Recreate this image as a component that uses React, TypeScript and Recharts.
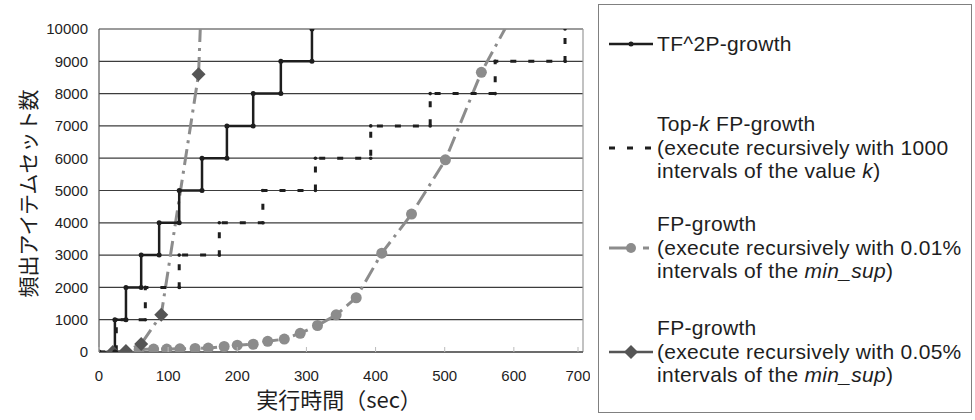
import React from "react";
import {
  LineChart,
  Line,
  XAxis,
  YAxis,
  CartesianGrid,
  ReferenceLine,
} from "recharts";

// axis ticks
const X_TICKS = [0, 100, 200, 300, 400, 500, 600, 700];
const Y_TICKS = [0, 1000, 2000, 3000, 4000, 5000, 6000, 7000, 8000, 9000, 10000];

// TF^2P-growth (corner points of the step)
const tf2pTime = [0, 23, 23, 39, 39, 61, 61, 87, 87, 116, 116, 149, 149, 185, 185, 223, 223, 263, 263, 308, 308];
const tf2pCount = [0, 0, 1000, 1000, 2000, 2000, 3000, 3000, 4000, 4000, 5000, 5000, 6000, 6000, 7000, 7000, 8000, 8000, 9000, 9000, 10000];

// Top-k FP-growth (1000 intervals of k)
const topkTime = [0, 25, 25, 67, 67, 116, 116, 174, 174, 237, 237, 313, 313, 393, 393, 479, 479, 573, 573, 674, 674];
const topkCount = [0, 0, 1000, 1000, 2000, 2000, 3000, 3000, 4000, 4000, 5000, 5000, 6000, 6000, 7000, 7000, 8000, 8000, 9000, 9000, 10000];

// FP-growth, 0.01% min_sup steps (last point runs past the top)
const fp001Time = [58, 79, 98, 117, 139, 158, 181, 200, 223, 244, 268, 291, 316, 343, 372, 409, 452, 501, 553, 615];
const fp001Count = [80, 90, 90, 100, 110, 120, 170, 210, 240, 330, 400, 580, 820, 1150, 1680, 3060, 4270, 5950, 8660, 11100];

// FP-growth, 0.05% min_sup steps
const fp005Time = [20, 39, 61, 90, 144, 150];
const fp005Count = [0, 30, 250, 1150, 8600, 12000];

const zip = (xs: number[], ys: number[]) => xs.map((x, i) => ({ x, y: ys[i] }));

const tf2pData = zip(tf2pTime, tf2pCount);
const topkData = zip(topkTime, topkCount);
const fp001Data = zip(fp001Time, fp001Count);
const fp005Data = zip(fp005Time, fp005Count);

const GRAY = "#8c8c8c";
const DARK = "#555555";
const INK = "#1e1e1e";
const TEXT_FONT = "'Liberation Sans', Arial, sans-serif";
const JP_FONT = "'Noto Sans CJK JP', sans-serif";

function Diamond(props: any) {
  const { cx, cy } = props;
  if (cx == null || cy == null) return null;
  const s = 7;
  return (
    <polygon
      points={`${cx},${cy - s} ${cx + s},${cy} ${cx},${cy + s} ${cx - s},${cy}`}
      fill={DARK}
    />
  );
}

function XTick(props: any) {
  const { x, y, payload } = props;
  return (
    <g>
      <line x1={x} x2={x} y1={y - 18} y2={y - 23} stroke="#bbb" />
      <text x={x} y={y} dy="0.71em" textAnchor="middle" fill={INK} fontSize={15} fontFamily={TEXT_FONT}>
        {payload.value}
      </text>
    </g>
  );
}

const LEGEND_LINE = 23.5;

function LegendSymbol({ kind }: { kind: string }) {
  return (
    <svg width={50} height={20} style={{ position: "absolute", left: 8, top: -10 }}>
      {kind === "tf2p" && (
        <>
          <line x1={2} x2={46} y1={10} y2={10} stroke={INK} strokeWidth={2.5} />
          <circle cx={24} cy={10} r={2.5} fill={INK} />
        </>
      )}
      {kind === "topk" && (
        <line x1={2} x2={48} y1={10} y2={10} stroke={INK} strokeWidth={3} strokeDasharray="6 12" />
      )}
      {kind === "fp001" && (
        <>
          <line x1={2} x2={28} y1={10} y2={10} stroke={GRAY} strokeWidth={3} />
          <line x1={36} x2={42} y1={10} y2={10} stroke={GRAY} strokeWidth={3} />
          <circle cx={24} cy={10} r={5} fill={GRAY} />
        </>
      )}
      {kind === "fp005" && (
        <>
          <line x1={2} x2={46} y1={10} y2={10} stroke={DARK} strokeWidth={2.5} />
          <polygon points="24,3 31,10 24,17 17,10" fill={DARK} />
        </>
      )}
    </svg>
  );
}

type LegendEntry = { kind: string; center: number; lines: React.ReactNode[]; symbolLine: number };

const legendEntries: LegendEntry[] = [
  { kind: "tf2p", center: 43, lines: ["TF^2P-growth"], symbolLine: 0 },
  {
    kind: "topk",
    center: 123,
    lines: [
      <>Top-<i>k</i> FP-growth</>,
      "(execute recursively with 1000",
      <>intervals of the value <i>k</i>)</>,
    ],
    symbolLine: 1,
  },
  {
    kind: "fp001",
    center: 223,
    lines: ["FP-growth", "(execute recursively with 0.01%", <>intervals of the <i>min_sup</i>)</>],
    symbolLine: 1,
  },
  {
    kind: "fp005",
    center: 327,
    lines: ["FP-growth", "(execute recursively with 0.05%", <>intervals of the <i>min_sup</i>)</>],
    symbolLine: 1,
  },
];

function LegendBox() {
  return (
    <div
      style={{
        position: "absolute",
        left: 598,
        top: 4,
        width: 374,
        height: 409,
        border: "1px solid #808080",
        boxSizing: "border-box",
        fontFamily: TEXT_FONT,
        fontSize: 21,
        letterSpacing: 0.3,
        color: INK,
      }}
    >
      {legendEntries.map((e) => (
        <React.Fragment key={e.kind}>
          <div style={{ position: "absolute", left: 0, top: e.center - 4 + e.symbolLine * LEGEND_LINE }}>
            <LegendSymbol kind={e.kind} />
          </div>
          {e.lines.map((ln, i) => (
            <div
              key={i}
              style={{
                position: "absolute",
                left: 58,
                top: e.center - 4 + i * LEGEND_LINE - LEGEND_LINE / 2,
                lineHeight: `${LEGEND_LINE}px`,
                whiteSpace: "nowrap",
              }}
            >
              {ln}
            </div>
          ))}
        </React.Fragment>
      ))}
    </div>
  );
}

export default function App() {
  return (
    <div style={{ position: "absolute", left: 0, top: 0, width: 975, height: 420, background: "#fff" }}>
      <LineChart width={590} height={420} margin={{ top: 29, right: 7, bottom: 20, left: 20 }}>
        <CartesianGrid horizontal vertical={false} stroke="#3c3c3c" strokeWidth={1.2} />
        <XAxis
          type="number"
          dataKey="x"
          domain={[0, 700]}
          ticks={X_TICKS}
          allowDataOverflow
          height={48}
          tickSize={0}
          tickMargin={18}
          tick={<XTick />}
          axisLine={{ stroke: "#3c3c3c", strokeWidth: 1.2 }}
          label={{
            content: (p: any) => {
              const vb = p.viewBox;
              return (
                <text
                  x={vb.x + vb.width / 2 - 2}
                  y={402}
                  textAnchor="middle"
                  dominantBaseline="middle"
                  fontSize={22}
                  fontFamily={JP_FONT}
                  fill={INK}
                >
                  実行時間（sec）
                </text>
              );
            },
          }}
        />
        <YAxis
          type="number"
          dataKey="y"
          domain={[0, 10000]}
          ticks={Y_TICKS}
          allowDataOverflow
          width={79}
          tickSize={0}
          tickMargin={11}
          tick={{ fill: INK, fontSize: 15, fontFamily: TEXT_FONT }}
          axisLine={{ stroke: "#555", strokeWidth: 1.2 }}
          label={{
            content: (p: any) => {
              const vb = p.viewBox;
              const cy = vb.y + vb.height / 2 + 3;
              return (
                <text
                  x={30}
                  y={cy}
                  transform={`rotate(-90, 30, ${cy})`}
                  textAnchor="middle"
                  dominantBaseline="middle"
                  fontSize={21}
                  fontFamily={JP_FONT}
                  fill={INK}
                >
                  頻出アイテムセット数
                </text>
              );
            },
          }}
        />
        <ReferenceLine y={10000} stroke="#999" strokeWidth={1.2} />
        <ReferenceLine x={700} stroke="#999" strokeWidth={1.2} />
        <Line
          data={fp001Data}
          dataKey="y"
          type="linear"
          stroke={GRAY}
          strokeWidth={3}
          strokeDasharray="16 6 3 6"
          dot={{ r: 5.5, fill: GRAY, stroke: "none" }}
          isAnimationActive={false}
        />
        <Line
          data={fp005Data}
          dataKey="y"
          type="linear"
          stroke={GRAY}
          strokeWidth={3}
          strokeDasharray="16 6 3 6"
          dot={<Diamond />}
          isAnimationActive={false}
        />
        <Line
          data={topkData}
          dataKey="y"
          type="linear"
          stroke={INK}
          strokeWidth={3}
          strokeDasharray="6 12"
          dot={{ r: 1.8, fill: INK, stroke: "none" }}
          isAnimationActive={false}
        />
        <Line
          data={tf2pData}
          dataKey="y"
          type="linear"
          stroke={INK}
          strokeWidth={2.5}
          dot={{ r: 2.5, fill: INK, stroke: "none" }}
          isAnimationActive={false}
        />
      </LineChart>
      <LegendBox />
    </div>
  );
}
